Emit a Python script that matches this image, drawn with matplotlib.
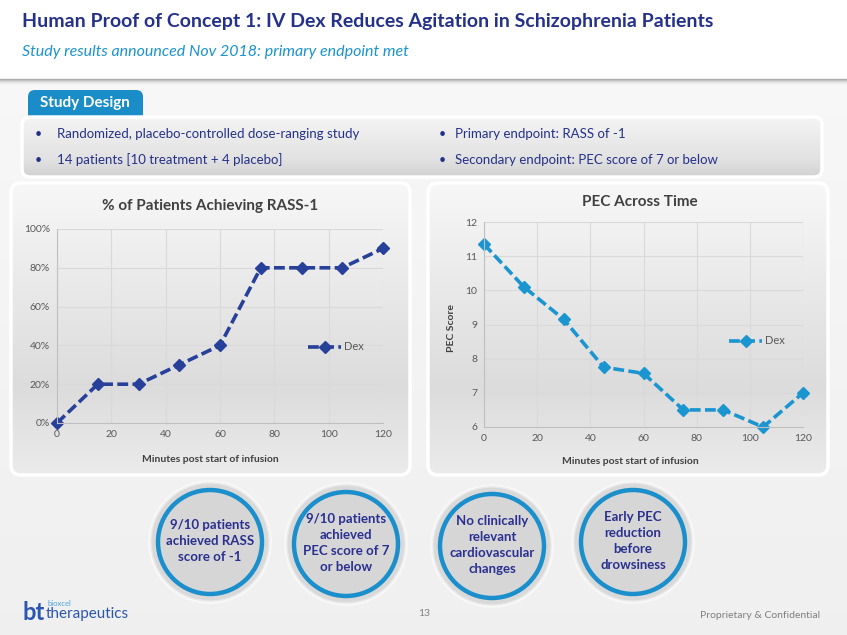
import numpy as np
import matplotlib
matplotlib.use('Agg')
import matplotlib.pyplot as plt
from matplotlib.patches import FancyBboxPatch, Circle, Rectangle

plt.rcParams['font.family'] = ['Lato', 'DejaVu Sans']

# data
minutes = [0, 15, 30, 45, 60, 75, 90, 105, 120]
rass_pct = [0, 20, 20, 30, 40, 80, 80, 80, 90]
pec_score = [11.35, 10.1, 9.15, 7.75, 7.57, 6.5, 6.5, 6.0, 7.0]

title = 'Human Proof of Concept 1: IV Dex Reduces Agitation in Schizophrenia Patients'
subtitle = 'Study results announced Nov 2018: primary endpoint met'
design_left = ['Randomized, placebo-controlled dose-ranging study',
               '14 patients [10 treatment + 4 placebo]']
design_right = ['Primary endpoint: RASS of -1',
                'Secondary endpoint: PEC score of 7 or below']
circle_texts = ['9/10 patients\nachieved RASS\nscore of -1',
                '9/10 patients\nachieved\nPEC score of 7\nor below',
                'No clinically\nrelevant\ncardiovascular\nchanges',
                'Early PEC\nreduction\nbefore\ndrowsiness']

NAVY = '#24318a'
LBLUE = '#1b93d0'
DARK = '#404040'
GREY = '#595959'

W, H = 847, 635
fig = plt.figure(figsize=(W / 100, H / 100), dpi=100)
fig.patch.set_facecolor('#efefef')

bg = fig.add_axes([0, 0, 1, 1], zorder=0)
bg.set_xlim(0, W)
bg.set_ylim(H, 0)
bg.axis('off')


def gradient_box(x0, y0, w, h, top, mid, bot, rad=8, edge='white', lw=2.5, z=1):
    patch = FancyBboxPatch((x0, y0), w, h, boxstyle=f'round,pad=0,rounding_size={rad}',
                           facecolor='none', edgecolor=edge, linewidth=lw, zorder=z + 0.1)
    bg.add_patch(patch)
    t = np.linspace(0, 1, 100)
    c0, c1, c2 = [np.array(matplotlib.colors.to_rgb(c)) for c in (top, mid, bot)]
    rows = np.where(t[:, None] < 0.7,
                    c0 + (c1 - c0) * (t[:, None] / 0.7),
                    c1 + (c2 - c1) * ((t[:, None] - 0.7) / 0.3))
    img = bg.imshow(rows[:, None, :], extent=(x0, x0 + w, y0 + h, y0), aspect='auto', zorder=z)
    clip = FancyBboxPatch((x0, y0), w, h, boxstyle=f'round,pad=0,rounding_size={rad}',
                          transform=bg.transData)
    img.set_clip_path(clip)
    return patch


# slide background gradient
t = np.linspace(0, 1, 50)
back = np.stack([0.97 - 0.03 * t] * 3, axis=1)
bg.imshow(back[:, None, :], extent=(0, W, H, 80), aspect='auto', zorder=0)

# header
bg.add_patch(Rectangle((0, 0), W, 79, facecolor='white', edgecolor='none', zorder=0.5))
for i, a in enumerate([0.55, 0.35, 0.2, 0.1, 0.05]):
    bg.plot([0, W], [79 + i, 79 + i], color='#808080', alpha=a, lw=1, zorder=0.6)
bg.text(22, 22, title, fontsize=14, fontweight='bold', color=NAVY, va='center', ha='left')
bg.text(22, 52, subtitle, fontsize=11.5, style='italic', color=LBLUE, va='center', ha='left')

# study design tab + box
bg.add_patch(FancyBboxPatch((28, 90), 115, 32, boxstyle='round,pad=0,rounding_size=7',
                            facecolor='#1a8cc8', edgecolor='none', zorder=1))
bg.text(40, 103, 'Study Design', fontsize=11, fontweight='bold', color='white', va='center')
gradient_box(22, 117, 800, 60, '#f4f4f4', '#e2e2e2', '#d2d2d2', rad=8, z=2)
for i, (l, r) in enumerate(zip(design_left, design_right)):
    y = 134 + i * 26
    bg.text(38, y, '\u2022', fontsize=9, color=NAVY, va='center', ha='center', zorder=3)
    bg.text(57, y, l, fontsize=9.5, color=NAVY, va='center', zorder=3)
    bg.text(442, y, '\u2022', fontsize=9, color=NAVY, va='center', ha='center', zorder=3)
    bg.text(455, y, r, fontsize=9.5, color=NAVY, va='center', zorder=3)

# chart panels
gradient_box(11, 183, 399, 292, '#f7f7f7', '#dcdcdc', '#ebebeb', rad=10, z=1)
gradient_box(428, 183, 400, 292, '#f7f7f7', '#dcdcdc', '#ebebeb', rad=10, z=1)

# result circles
centers = [(210, 542), (346, 544), (492, 546), (633, 542)]
for (cx, cy), txt in zip(centers, circle_texts):
    bg.add_patch(Circle((cx, cy), 62, facecolor='#f7f7f7', edgecolor='none', zorder=2))
    bg.add_patch(Circle((cx, cy), 59, facecolor='#d9d9d9', edgecolor='#e8e8e8', lw=1, zorder=2))
    bg.add_patch(Circle((cx, cy), 52, facecolor='#d6d6d6', edgecolor='#1b8fcb', lw=3.2, zorder=3))
    bg.text(cx, cy - 1, txt, fontsize=9.5, fontweight='bold', color='#2a3090', ha='center',
            va='center', linespacing=1.4, zorder=4)

# footer
bg.text(22, 612, 'bt', fontsize=17, fontweight='bold', color='#2a55b0', va='center', zorder=3)
bg.text(47, 604, 'bioxcel', fontsize=5.5, color='#4aa3dc', va='center', zorder=3)
bg.text(46, 614, 'therapeutics', fontsize=11, color='#2a55b0', va='center', zorder=3)
bg.text(424, 614, '13', fontsize=7.5, color='#7f7f7f', ha='center', va='center')
bg.text(820, 615, 'Proprietary & Confidential', fontsize=7.5, color='#7f7f7f', ha='right', va='center')


def style_axes(ax):
    ax.set_facecolor('none')
    ax.grid(True, color='#d9d9d9', lw=0.8)
    ax.set_axisbelow(True)
    for s in ['top', 'right']:
        ax.spines[s].set_visible(False)
    for s in ['left', 'bottom']:
        ax.spines[s].set_color('#bfbfbf')
    ax.tick_params(labelsize=7.5, colors=GREY, length=0, pad=5)
    ax.set_xlim(0, 120)
    ax.set_xticks(range(0, 121, 20))


dash = (0, (3, 1.2))

# left chart
ax1 = fig.add_axes([57 / W, (H - 423) / H, 326 / W, 194 / H], zorder=2)
style_axes(ax1)
ax1.plot(minutes, rass_pct, color='#27409a', lw=2.6, ls=dash, marker='D', ms=6.5,
         clip_on=False, label='Dex')
ax1.set_ylim(0, 100)
ax1.set_yticks(range(0, 101, 20))
ax1.set_yticklabels([f'{v}%' for v in range(0, 101, 20)])
ax1.legend(loc='center left', bbox_to_anchor=(298 / W, 1 - 347 / H), bbox_transform=fig.transFigure,
           frameon=False, fontsize=8, labelcolor=GREY, handlelength=3.0, handletextpad=0.2)
bg.text(210, 206, '% of Patients Achieving RASS-1', fontsize=11, fontweight='bold', color=DARK,
        ha='center', va='center', zorder=3)
bg.text(210, 460, 'Minutes post start of infusion', fontsize=7.5, fontweight='bold', color=DARK,
        ha='center', va='center', zorder=3)

# right chart
ax2 = fig.add_axes([484 / W, (H - 427) / H, 319 / W, 205 / H], zorder=2)
style_axes(ax2)
ax2.plot(minutes, pec_score, color='#1b95d0', lw=2.6, ls=dash, marker='D', ms=6.5,
         clip_on=False, label='Dex')
ax2.set_ylim(6, 12)
ax2.set_yticks(range(6, 13))
ax2.legend(loc='center left', bbox_to_anchor=(719 / W, 1 - 341 / H), bbox_transform=fig.transFigure,
           frameon=False, fontsize=8, labelcolor=GREY, handlelength=3.0, handletextpad=0.2)
bg.text(640, 202, 'PEC Across Time', fontsize=11, fontweight='bold', color=DARK,
        ha='center', va='center', zorder=3)
bg.text(630, 462, 'Minutes post start of infusion', fontsize=7.5, fontweight='bold', color=DARK,
        ha='center', va='center', zorder=3)
bg.text(452, 328, 'PEC Score', fontsize=7.5, fontweight='bold', color=DARK, rotation=90,
        ha='center', va='center', zorder=3)

fig.savefig('out.png', dpi=100)
